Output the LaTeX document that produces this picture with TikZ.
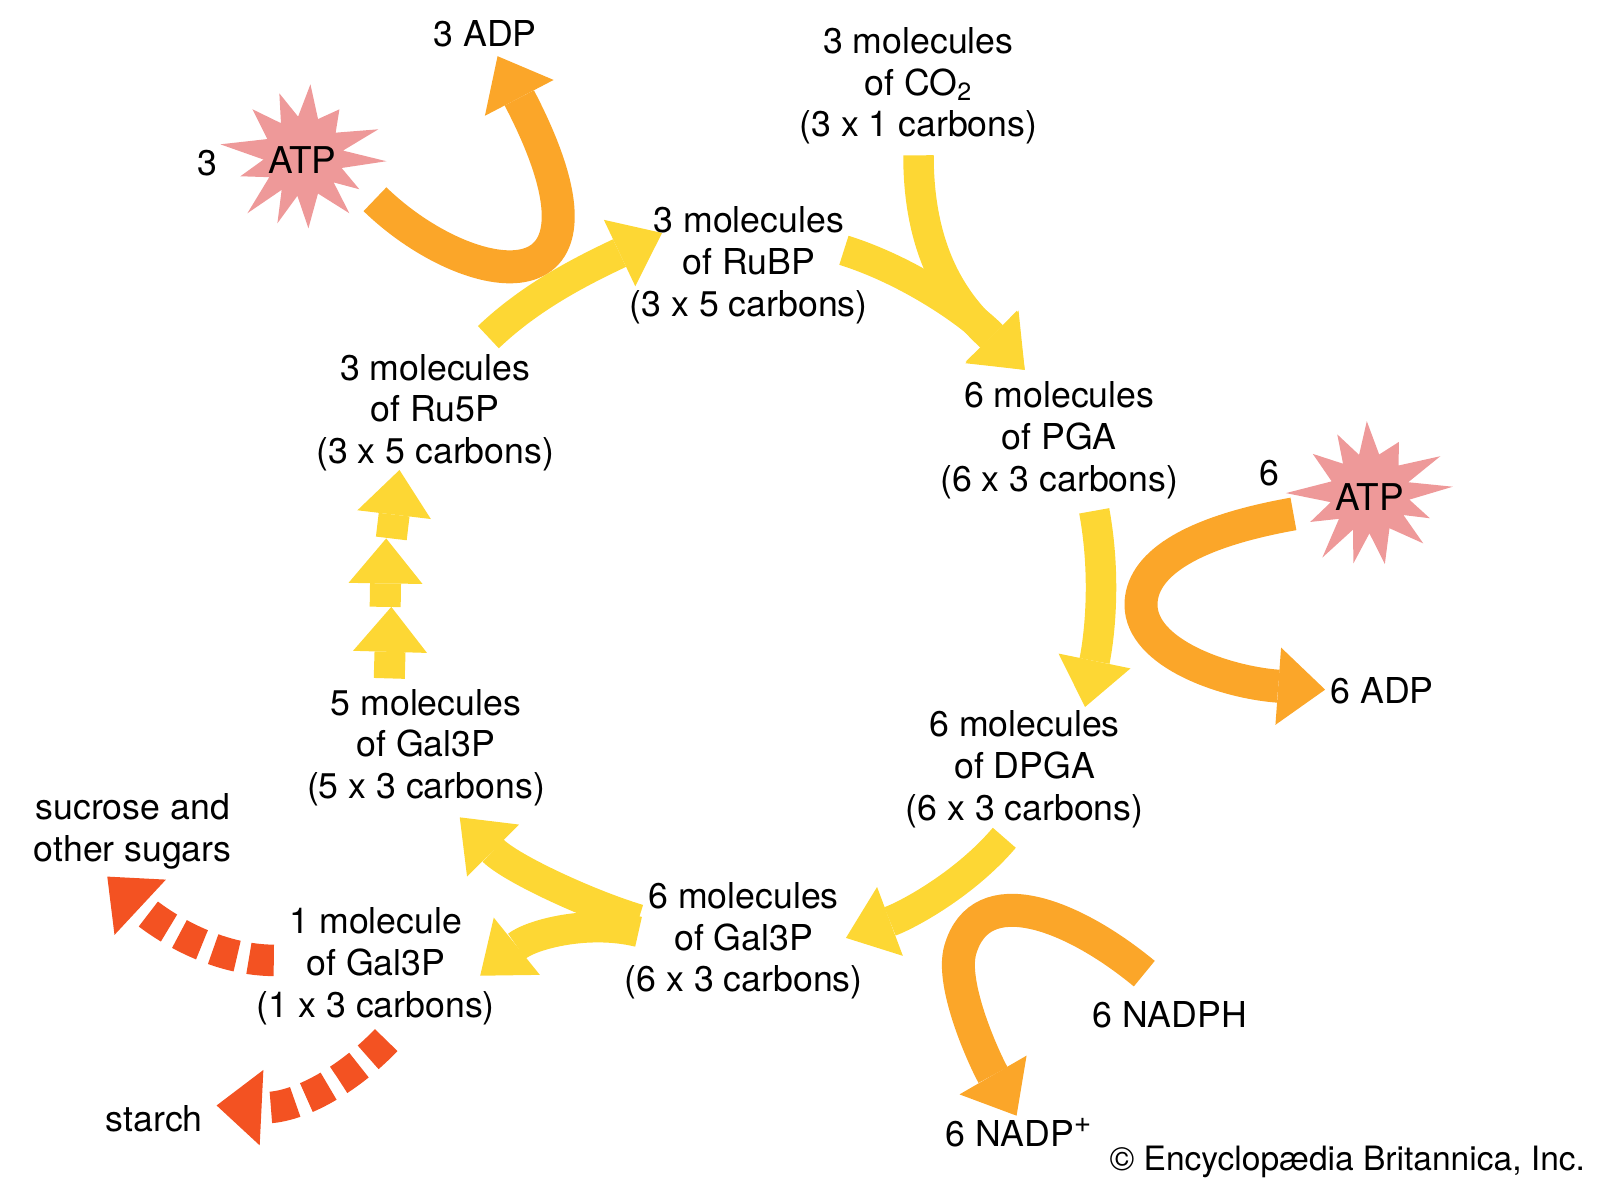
\documentclass[tikz,border=0pt]{standalone}
\usepackage{fontspec}
\setmainfont{TeX Gyre Heros}
\usetikzlibrary{arrows.meta}
\definecolor{cyel}{RGB}{253,215,52}
\definecolor{corg}{RGB}{251,166,41}
\definecolor{cred}{RGB}{243,82,34}
\definecolor{cpink}{RGB}{238,153,153}
\tikzset{
  lbl/.style={align=center, font=\fontsize{20.3}{23.8}\selectfont, inner sep=0pt},
  yarrow/.style={draw=cyel, line width=0.61cm, -{Triangle[length=0.94cm,width=1.47cm,line width=0pt]}},
  ysmall/.style={draw=cyel, line width=0.62cm, -{Triangle[length=0.9cm,width=1.48cm,line width=0pt]}},
  oarrow/.style={draw=corg, line width=0.66cm, -{Triangle[length=0.94cm,width=1.55cm,line width=0pt]}},
  rarrow/.style={draw=cred, line width=0.63cm, dash pattern={on 0.5cm off 0.24cm}, -{Triangle[length=0.9cm,width=1.51cm,line width=0pt]}},
  burst/.pic={\fill[cpink] (-84.4:72.3) -- (-68.5:40) -- (-52.5:59.2) -- (-36.2:40) -- (-19.8:79.7) -- (-8.2:40) -- (3.4:83.2) -- (17:40) -- (30.5:65) -- (40.8:40) -- (51.1:73.2) -- (68.6:40) -- (86:72.2) -- (98.6:40) -- (111.2:71.9) -- (122.9:40) -- (134.5:79.9) -- (148.5:40) -- (162.4:66.1) -- (175.3:40) -- (188.2:83.9) -- (205.5:40) -- (222.7:69.4) -- (235.9:40) -- (249.1:67.4) -- (262.4:40) -- cycle;}
}
\begin{document}
\begin{tikzpicture}[x=0.02cm, y=-0.02cm]
\path[use as bounding box] (0,0) rectangle (1600,1186);
\begin{scope}[scale=1.0215]
% end points of the connectors
\coordinate (co2s) at (899,152);
\coordinate (pgat) at (1003,362);
\coordinate (rubps) at (826,245);
\coordinate (ru5ps) at (478,330);
\coordinate (rubpt) at (648,228);
\coordinate (pgas) at (1071,500);
\coordinate (dpgat) at (1062,692);
\coordinate (dpgas) at (983,820);
\coordinate (galvit) at (828,918);
\coordinate (galvisa) at (625,900);
\coordinate (galvisb) at (625,912);
\coordinate (galvt) at (450,800);
\coordinate (galit) at (470,955);
\coordinate (s1a) at (381,664);
\coordinate (s1b) at (383,594);
\coordinate (s2a) at (377,594);
\coordinate (s2b) at (378,527);
\coordinate (s3a) at (383,527);
\coordinate (s3b) at (391,460);
\coordinate (atpas) at (367,195);
\coordinate (adpiiit) at (487,55);
\coordinate (atpbs) at (1266,503);
\coordinate (adpvit) at (1297,675);
\coordinate (nadphs) at (1120,953);
\coordinate (nadpt) at (995,1092);
\coordinate (sugs) at (268,940);
\coordinate (sugt) at (105,858);
\coordinate (sts) at (378,1018);
\coordinate (stt) at (212,1082);

% yellow cycle
\draw[yarrow] (co2s) .. controls (899,265) and (950,310) .. (pgat);
\draw[yarrow] (rubps) .. controls (890,265) and (950,307) .. (pgat);
\draw[yarrow] (ru5ps) .. controls (520,290) and (570,265) .. (rubpt);
\draw[yarrow] (pgas) .. controls (1084,570) and (1075,630) .. (dpgat);
\draw[yarrow] (dpgas) .. controls (945,865) and (890,895) .. (galvit);
\draw[yarrow] (galvisa) .. controls (575,885) and (500,850) .. (galvt);
\draw[yarrow] (galvisb) .. controls (575,900) and (520,915) .. (galit);
\draw[ysmall] (s1a) -- (s1b);
\draw[ysmall] (s2a) -- (s2b);
\draw[ysmall] (s3a) -- (s3b);

% orange energy arrows
\draw[oarrow] (atpas) .. controls (460,285) and (620,310) .. (adpiiit);
\draw[oarrow] (atpbs) .. controls (1160,522) and (1117,555) .. (1117,592) .. controls (1117,640) and (1200,668) .. (adpvit);
\draw[oarrow] (nadphs) .. controls (1050,895) and (960,860) .. (940,930) .. controls (930,965) and (965,1040) .. (nadpt);

% red dashed outputs
\draw[rarrow] (sugs) .. controls (205,940) and (150,900) .. (sugt);
\draw[rarrow] (sts) .. controls (340,1058) and (290,1086) .. (stt);

% ATP bursts
\pic at (297,153) {burst};
\pic[rotate=8] at (1341,483) {burst};

% labels
\node[lbl] (co2) at (899,84) {3 molecules\\of CO\textsubscript{2}\\(3 x 1 carbons)};
\node[lbl] (rubp) at (733,260) {3 molecules\\of RuBP\\(3 x 5 carbons)};
\node[lbl] (ru5p) at (426,404) {3 molecules\\of Ru5P\\(3 x 5 carbons)};
\node[lbl] (pga) at (1037,431) {6 molecules\\of PGA\\(6 x 3 carbons)};
\node[lbl] (dpga) at (1003,753) {6 molecules\\of DPGA\\(6 x 3 carbons)};
\node[lbl] (galv) at (417,732) {5 molecules\\of Gal3P\\(5 x 3 carbons)};
\node[lbl] (galvi) at (728,921) {6 molecules\\of Gal3P\\(6 x 3 carbons)};
\node[lbl] (gali) at (368,946) {1 molecule\\of Gal3P\\(1 x 3 carbons)};
\node[lbl] (sugars) at (130,814) {sucrose and\\other sugars};
\node[lbl] (starch) at (151,1095) {starch};
\node[lbl] (nadph) at (1145,993) {6 NADPH};
\node[lbl, anchor=base] (nadp) at (997,1122) {6 NADP\raisebox{8pt}{\fontsize{17}{17}\selectfont +}};
\node[lbl] (adpvi) at (1353,676) {6 ADP};
\node[lbl] (adpiii) at (475,33) {3 ADP};
\node[lbl] (nthree) at (203,160) {3};
\node[lbl] (nsix) at (1243,463) {6};
\node[lbl, font=\fontsize{21}{24}\selectfont] (atpa) at (296,157) {ATP};
\node[lbl, font=\fontsize{21}{24}\selectfont] (atpb) at (1341,487) {ATP};
\node[lbl, font=\fontsize{19.1}{23}\selectfont, anchor=base east] (copy) at (1552,1146) {© Encyclopædia Britannica, Inc.};
\end{scope}
\end{tikzpicture}
\end{document}
